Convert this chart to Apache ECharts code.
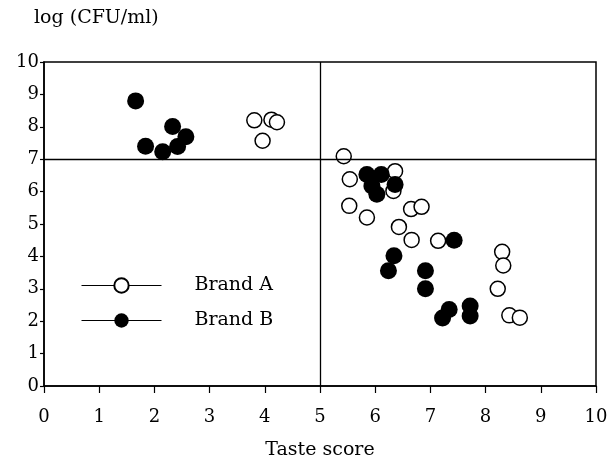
<!DOCTYPE html>
<html>
<head>
<meta charset="utf-8">
<script src="https://cdn.jsdelivr.net/npm/echarts@6/dist/echarts.min.js"></script>
<style>
  html, body { margin: 0; padding: 0; background: #fff; }
  #chart { width: 614px; height: 465px; }
</style>
</head>
<body>
<div id="chart"></div>
<script>
  // taste score, log(CFU/ml)
  var brandA = [
    [3.81, 8.20], [4.12, 8.22], [4.22, 8.14], [3.96, 7.57],
    [5.43, 7.09], [5.54, 6.38], [6.36, 6.63], [6.33, 6.02],
    [5.53, 5.56], [5.85, 5.20], [6.65, 5.46], [6.84, 5.53],
    [6.43, 4.91], [6.66, 4.51], [7.14, 4.48],
    [8.30, 4.14], [8.32, 3.72], [8.22, 3.00], [8.43, 2.18], [8.62, 2.11]
  ];
  var brandB = [
    [1.66, 8.80], [1.84, 7.40], [2.15, 7.23], [2.33, 8.01], [2.42, 7.39], [2.57, 7.69],
    [5.85, 6.53], [6.11, 6.53], [5.94, 6.17], [6.03, 5.92], [6.36, 6.22],
    [7.43, 4.50], [6.34, 4.02], [6.24, 3.56], [6.91, 3.56], [6.91, 3.00],
    [7.34, 2.36], [7.22, 2.10], [7.72, 2.47], [7.72, 2.16]
  ];
  var xTicks = [0, 1, 2, 3, 4, 5, 6, 7, 8, 9, 10];
  var yTicks = [0, 1, 2, 3, 4, 5, 6, 7, 8, 9, 10];
  var cutX = 5;
  var cutY = 7;

  var font = 'DejaVu Serif';
  var chart = echarts.init(document.getElementById('chart'));

  var option = {
    animation: false,
    backgroundColor: '#fff',
    grid: {
      left: 44, right: 18, top: 62, bottom: 77,
      show: true, borderColor: '#000', borderWidth: 1.5
    },
    legend: {
      orient: 'vertical',
      left: 76, top: 271,
      itemWidth: 80, itemHeight: 18, itemGap: 16,
      textStyle: { fontFamily: font, fontSize: 19, color: '#000', padding: [0, 0, 0, 28] },
      lineStyle: { color: '#000', width: 1, opacity: 1 },
      data: ['Brand A', 'Brand B']
    },
    xAxis: {
      type: 'value', min: xTicks[0], max: xTicks[xTicks.length - 1], interval: 1,
      name: 'Taste score', nameLocation: 'middle', nameGap: 55,
      nameTextStyle: { fontFamily: font, fontSize: 19, color: '#000' },
      axisLine: { lineStyle: { color: '#000', width: 1.5 } },
      axisTick: { show: true, length: 7, lineStyle: { color: '#000', width: 1.2 } },
      axisLabel: { fontFamily: font, fontSize: 18, color: '#000', margin: 22 },
      splitLine: { show: false }
    },
    yAxis: {
      type: 'value', min: yTicks[0], max: yTicks[yTicks.length - 1], interval: 1,
      name: 'log (CFU/ml)', nameLocation: 'end', nameGap: 34,
      nameTextStyle: { fontFamily: font, fontSize: 19, color: '#000', align: 'left', padding: [0, 0, 0, -10] },
      axisLine: { lineStyle: { color: '#000', width: 1.5 } },
      axisTick: { show: true, length: 4, lineStyle: { color: '#000', width: 1.2 } },
      axisLabel: { fontFamily: font, fontSize: 18, color: '#000', margin: 5 },
      splitLine: { show: false }
    },
    series: [
      {
        name: 'Brand A', type: 'line', data: brandA,
        symbol: 'circle', symbolSize: 15, showAllSymbol: true,
        lineStyle: { opacity: 0 },
        itemStyle: { color: '#fff', borderColor: '#000', borderWidth: 1.5 },
        z: 3,
        markLine: {
          silent: true, symbol: 'none', label: { show: false },
          lineStyle: { color: '#000', width: 1.3, type: 'solid' },
          data: [{ xAxis: cutX }, { yAxis: cutY }]
        }
      },
      {
        name: 'Brand B', type: 'line', data: brandB,
        symbol: 'circle', symbolSize: 17, showAllSymbol: true,
        lineStyle: { opacity: 0 },
        itemStyle: { color: '#000', borderColor: '#000', borderWidth: 0 },
        z: 4
      }
    ]
  };
  chart.setOption(option);
</script>
</body>
</html>
